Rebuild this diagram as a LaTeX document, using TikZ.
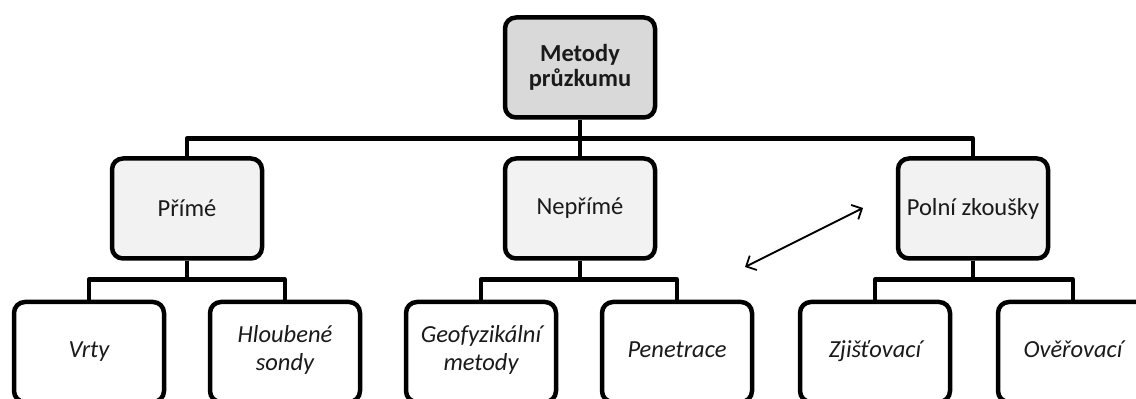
\documentclass[tikz,border=0pt]{standalone}
\usepackage{fontspec}
\setmainfont{Carlito}
\usepackage{tikz}
\usetikzlibrary{arrows.meta}

\definecolor{rootgray}{HTML}{D9D9D9}
\definecolor{midgray}{HTML}{F2F2F2}
\definecolor{txtgray}{HTML}{1A1A1A}

\begin{document}
\begin{tikzpicture}[x=1pt, y=1pt,
                box/.style={draw=black, line width=4.5pt, rounded corners=11pt,
                    minimum width=150pt, minimum height=100pt, align=center,
                    text=txtgray, font=\fontsize{24.5}{26}\selectfont},
                rootbox/.style={box, fill=rootgray, font=\fontsize{24.5}{25}\selectfont\bfseries},
                midbox/.style={box, fill=midgray},
                leafbox/.style={box, fill=white, font=\fontsize{24.5}{28}\selectfont\itshape,
                    execute at begin node=\strut},
                conn/.style={line width=4.5pt, line join=round}]
                \useasboundingbox (0,0) rectangle (1136,399);
                \clip (0,0) rectangle (1136,399);
                \node[rootbox] (M) at (580,331.5) {Metody\\průzkumu};
                \node[midbox] (P1) at (187,190.5) {Přímé};
                \node[midbox] (P2) at (580,190.5) {Nepřímé};
                \node[midbox] (P3) at (973,190.5) {Polní zkoušky};
                \node[leafbox] (L1) at (89,47) {Vrty};
                \node[leafbox] (L2) at (285,47) {Hloubené\\sondy};
                \node[leafbox] (L3) at (481,47) {Geofyzikální\\metody};
                \node[leafbox] (L4) at (677,47) {Penetrace};
                \node[leafbox] (L5) at (875,47) {Zjišťovací};
                \node[leafbox] (L6) at (1073,47) {Ověřovací};
                \draw[conn] (M.south) -- ++(0,-19) -| (P1.north);
                \draw[conn] (M.south) -- ++(0,-19) -| (P3.north);
                \draw[conn] (M.south) -- (P2.north);
                \draw[conn] (P1.south) -- ++(0,-19) -| (L1.north);
                \draw[conn] (P1.south) -- ++(0,-19) -| (L2.north);
                \draw[conn] (P2.south) -- ++(0,-19) -| (L3.north);
                \draw[conn] (P2.south) -- ++(0,-19) -| (L4.north);
                \draw[conn] (P3.south) -- ++(0,-19) -| (L5.north);
                \draw[conn] (P3.south) -- ++(0,-19) -| (L6.north);
                \coordinate (A) at (745,132);
                \coordinate (B) at (863,191);
                \draw[line width=1.8pt, {Straight Barb[length=8pt,width=16pt]}-{Straight Barb[length=8pt,width=16pt]}] (A) -- (B);
            \end{tikzpicture}
\end{document}
